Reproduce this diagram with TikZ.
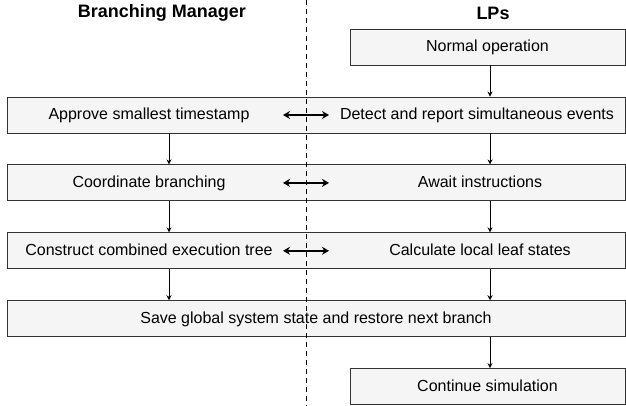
\documentclass[tikz,border=0pt]{standalone}
\usepackage{fontspec}
\setmainfont{Liberation Sans}
\usepackage{tikz}
\usetikzlibrary{arrows.meta, positioning}
\tikzstyle{row} = [rectangle, minimum width=618pt, minimum height=36pt, inner sep=0pt, draw=black!80, line width=0.9pt, fill=black!4]
\tikzstyle{process} = [rectangle, minimum width=275pt, minimum height=36pt, inner sep=0pt, draw=black!80, line width=0.9pt, fill=black!4, font=\fontsize{16}{18}\selectfont]
\tikzstyle{txt} = [inner sep=0pt, text height=10pt, text depth=0pt, font=\fontsize{16}{18}\selectfont]
\tikzstyle{heading} = [inner sep=0pt, font=\fontsize{18}{21}\selectfont\bfseries]
\tikzstyle{arrow} = [line width=0.9pt, -{Stealth[length=5pt, width=5pt]}]
\tikzstyle{both} = [line width=2pt, {Stealth[length=7pt, width=8pt]}-{Stealth[length=7pt, width=8pt]}]
\tikzstyle{divider} = [line width=1pt, dash pattern=on 5pt off 4pt]

\begin{document}
\begin{tikzpicture}[x=1pt, y=1pt, node distance=31pt]
\useasboundingbox (0,0) rectangle (626,-406);

% Column headings
\node (bm) [heading] at (162,-13) {Branching Manager};
\node (lps) [heading] at (493,-13) {LPs};

% Boxes
\node (normal) [process, text height=10pt, text depth=0pt] at (487.5,-47) {Normal operation};
\node (row1) [row] at (316,-115) {};
\node (row2) [row, below=of row1] {};
\node (row3) [row, below=of row2] {};
\node (save) [row, below=of row3, text height=10pt, text depth=0pt, font=\fontsize{16}{18}\selectfont] {Save global system state and restore next branch};
\node (cont) [process, below=of save.south -| normal.south, text height=10pt, text depth=0pt] {Continue simulation};

% Texts
\node (approve) [txt] at ([xshift=-167pt]row1.center) {Approve smallest timestamp};
\node (detect) [txt] at ([xshift=161pt]row1.center) {Detect and report simultaneous events};
\node (coord) [txt] at ([xshift=-167pt]row2.center) {Coordinate branching};
\node (await) [txt] at ([xshift=164pt]row2.center) {Await instructions};
\node (construct) [txt] at ([xshift=-167pt]row3.center) {Construct combined execution tree};
\node (calc) [txt] at ([xshift=164pt]row3.center) {Calculate local leaf states};

% Columns
\coordinate (lcol) at (169,0);
\coordinate (rcol) at (490,0);
\coordinate (split) at (306,0);

% Divider
\draw [divider] (split) -- (306,-406);

% Paths
\draw [arrow] (normal.south -| rcol) -- (row1.north -| rcol);
\draw [arrow] (row1.south -| rcol) -- (row2.north -| rcol);
\draw [arrow] (row2.south -| rcol) -- (row3.north -| rcol);
\draw [arrow] (row3.south -| rcol) -- (save.north -| rcol);
\draw [arrow] (save.south -| rcol) -- (cont.north -| rcol);
\draw [arrow] (row1.south -| lcol) -- (row2.north -| lcol);
\draw [arrow] (row2.south -| lcol) -- (row3.north -| lcol);
\draw [arrow] (row3.south -| lcol) -- (save.north -| lcol);

\draw [both] ([xshift=-23pt]split |- row1) -- ([xshift=23pt]split |- row1);
\draw [both] ([xshift=-23pt]split |- row2) -- ([xshift=23pt]split |- row2);
\draw [both] ([xshift=-23pt]split |- row3) -- ([xshift=23pt]split |- row3);

\end{tikzpicture}
\end{document}
